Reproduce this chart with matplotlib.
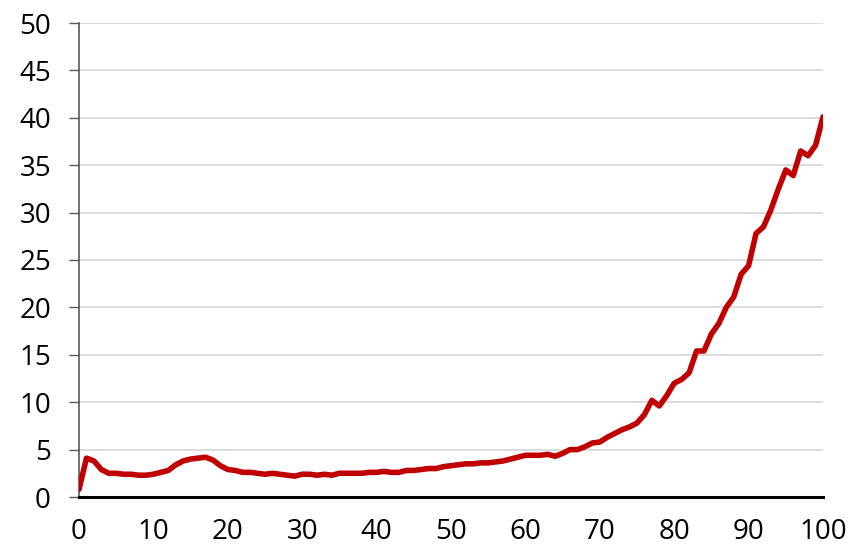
import matplotlib
matplotlib.use("Agg")
import matplotlib.pyplot as plt
import numpy as np

# age (years) and rate values
ages = list(range(0, 101))
values = [
    0.8, 4.1, 3.8, 2.9, 2.5, 2.5, 2.4, 2.4, 2.3, 2.3,   # 0-9
    2.4, 2.6, 2.8, 3.4, 3.8, 4.0, 4.1, 4.2, 3.9, 3.3,   # 10-19
    2.9, 2.8, 2.6, 2.6, 2.5, 2.4, 2.5, 2.4, 2.3, 2.2,   # 20-29
    2.4, 2.4, 2.3, 2.4, 2.3, 2.5, 2.5, 2.5, 2.5, 2.6,   # 30-39
    2.6, 2.7, 2.6, 2.6, 2.8, 2.8, 2.9, 3.0, 3.0, 3.2,   # 40-49
    3.3, 3.4, 3.5, 3.5, 3.6, 3.6, 3.7, 3.8, 4.0, 4.2,   # 50-59
    4.4, 4.4, 4.4, 4.5, 4.3, 4.6, 5.0, 5.0, 5.3, 5.7,   # 60-69
    5.8, 6.3, 6.7, 7.1, 7.4, 7.8, 8.7, 10.2, 9.6, 10.7, # 70-79
    12.0, 12.4, 13.1, 15.4, 15.4, 17.2, 18.3, 20.0, 21.1, 23.5,  # 80-89
    24.4, 27.8, 28.5, 30.3, 32.5, 34.5, 33.9, 36.5, 36.0, 37.1,  # 90-99
    40.1,
]
x_ticks = list(range(0, 101, 10))
y_ticks = list(range(0, 51, 5))

plt.rcParams['font.family'] = ['Open Sans', 'DejaVu Sans']

fig = plt.figure(figsize=(8.49, 5.52), dpi=100)
ax = fig.add_axes([79 / 849, 55 / 552, 744 / 849, 474 / 552])

ax.plot(ages, values, color='#C00000', linewidth=4.0, solid_joinstyle='round',
        solid_capstyle='round', zorder=3)

ax.set_xlim(0, 100)
ax.set_ylim(0, 50)
ax.set_xticks(x_ticks)
ax.set_yticks(y_ticks)

ax.yaxis.grid(True, color='#D9D9D9', linewidth=1.3, zorder=0)
ax.set_axisbelow(True)

for s in ['top', 'right']:
    ax.spines[s].set_visible(False)
ax.spines['left'].set_color('#595959')
ax.spines['left'].set_linewidth(1.2)
ax.spines['bottom'].set_color('#000000')
ax.spines['bottom'].set_linewidth(2.2)

ax.tick_params(axis='y', length=7.2, width=1.0, color='#595959', pad=13,
               labelsize=20, labelcolor='#000000')
ax.tick_params(axis='x', length=0, pad=15, labelsize=20, labelcolor='#000000')

fig.savefig('out.png', dpi=100, facecolor='white')
